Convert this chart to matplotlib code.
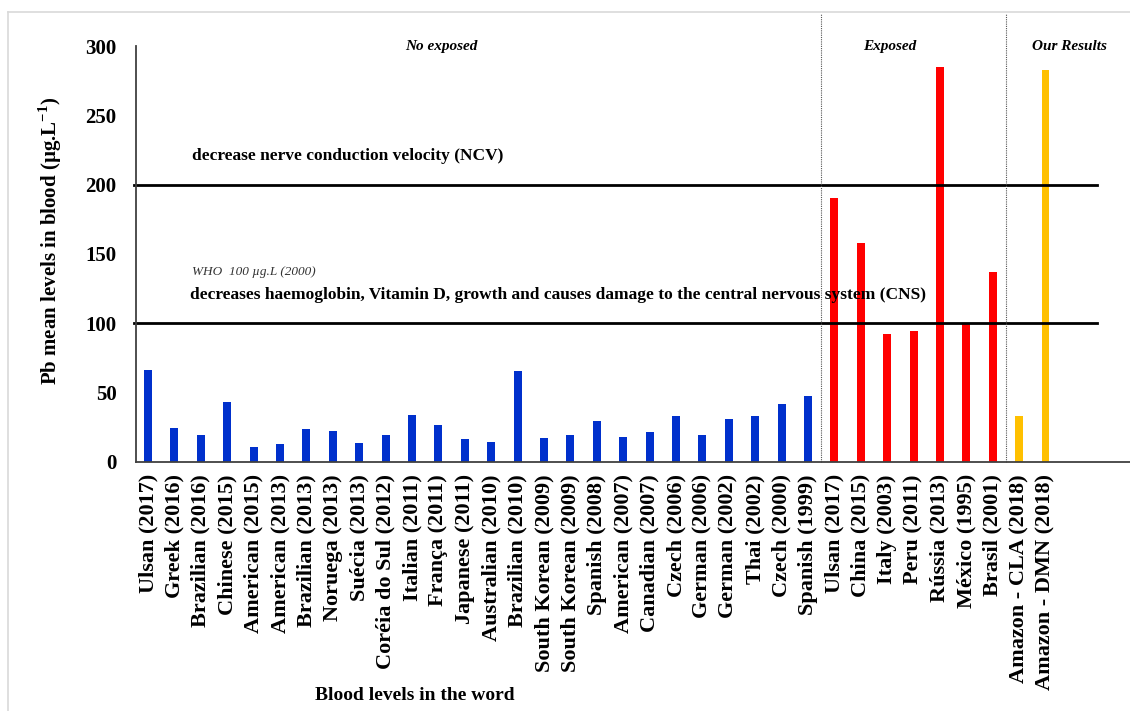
import numpy as np
import matplotlib
matplotlib.use("Agg")
import matplotlib.pyplot as plt
from matplotlib.lines import Line2D

plt.rcParams['font.family'] = ['Liberation Serif', 'DejaVu Serif']
plt.rcParams['mathtext.fontset'] = 'custom'
plt.rcParams['mathtext.rm'] = 'Liberation Serif'
plt.rcParams['mathtext.bf'] = 'Liberation Serif:bold'

# values (Pb, ug/L)
no_exposed_labels = ['Ulsan (2017)', 'Greek (2016)', 'Brazilian (2016)', 'Chinese (2015)',
                     'American (2015)', 'American (2013)', 'Brazilian (2013)', 'Noruega (2013)',
                     'Suécia (2013)', 'Coréia do Sul (2012)', 'Italian (2011)', 'França (2011)',
                     'Japanese (2011)', 'Australian (2010)', 'Brazilian (2010)', 'South Korean (2009)',
                     'South Korean (2009)', 'Spanish (2008)', 'American (2007)', 'Canadian (2007)',
                     'Czech (2006)', 'German (2006)', 'German (2002)', 'Thai (2002)',
                     'Czech (2000)', 'Spanish (1999)']
no_exposed_vals = [66, 24.5, 19.3, 43, 10.8, 12.5, 23.6, 21.7, 13.5, 19.3, 33.7, 26, 15.9, 14.4,
                   65.7, 16.9, 19.5, 29.4, 18, 21.2, 33, 19, 31, 32.5, 41.4, 47.2]

exposed_labels = ['Ulsan (2017)', 'China (2015)', 'Italy (2003)', 'Peru (2011)',
                  'Rússia (2013)', 'México (1995)', 'Brasil (2001)']
exposed_vals = [190.6, 158, 92, 94.4, 285, 99.4, 137]

our_labels = ['Amazon - CLA (2018)', 'Amazon - DMN (2018)']
our_vals = [33, 283]

thresholds = [200, 100]

labels = no_exposed_labels + exposed_labels + our_labels
n1 = len(no_exposed_vals)
n2 = len(exposed_vals)
x1 = np.arange(n1)
x2 = np.arange(n1, n1 + n2)
x3 = np.arange(n1 + n2, n1 + n2 + len(our_vals))

fig = plt.figure(figsize=(11.3, 7.11), dpi=100)
ax = fig.add_axes([0.1204, 0.3509, 0.8796, 0.5844])

ax.bar(x1, no_exposed_vals, width=0.3, color='#0030CC')
ax.bar(x2, exposed_vals, width=0.3, color='#FF0000')
ax.bar(x3, our_vals, width=0.3, color='#FFC000')

ax.set_xlim(-0.455, 37.2)
ax.set_ylim(0, 300)
ax.set_yticks([0, 50, 100, 150, 200, 250, 300])
ax.set_xticks(np.arange(len(labels)))
ax.set_xticklabels(labels, rotation=90, fontsize=16, fontweight='bold')
ax.tick_params(axis='y', length=0, pad=14, labelsize=15)
ax.tick_params(axis='x', length=0, pad=9)
for lab in ax.get_yticklabels():
    lab.set_fontweight('bold')

for s in ['top', 'right']:
    ax.spines[s].set_visible(False)
for s in ['left', 'bottom']:
    ax.spines[s].set_color('#404040')
    ax.spines[s].set_linewidth(1.3)

# threshold lines
for t in thresholds:
    ax.plot([-0.53, 35.95], [t, t], color='black', lw=2, clip_on=False, zorder=1)

# group separators
for xs in [n1 - 0.5, n1 + n2 - 0.5]:
    ax.plot([xs, xs], [0, 323], color='#555555', lw=0.8, ls=(0, (1, 1)), clip_on=False)

ax.text(11.1, 300, 'No exposed', style='italic', fontweight='bold', fontsize=11,
        ha='center', va='center')
ax.text(28.1, 300, 'Exposed', style='italic', fontweight='bold', fontsize=11,
        ha='center', va='center')
ax.text(34.9, 300, 'Our Results', style='italic', fontweight='bold', fontsize=11,
        ha='center', va='center')

ax.text(1.65, 220.5, 'decrease nerve conduction velocity (NCV)', fontweight='bold',
        fontsize=12.5, va='center')
ax.text(1.68, 137, 'WHO  100 µg.L (2000)', style='italic', fontsize=9.5, color='#333333',
        va='center')
ax.text(1.6, 120, 'decreases haemoglobin, Vitamin D, growth and causes damage to the '
        'central nervous system (CNS)', fontweight='bold', fontsize=12.5, va='center')

fig.text(0.044, 0.661, 'Pb mean levels in blood (µg.L$^{\\mathbf{-1}}$)', rotation=90,
         fontsize=15, fontweight='bold', ha='center', va='center')
fig.text(0.367, 0.022, 'Blood levels in the word', fontsize=14, fontweight='bold',
         ha='center', va='center')

# light frame around the figure
fig.add_artist(Line2D([8 / 1130, 8 / 1130], [0, 1 - 12 / 711], color='#d9d9d9', lw=1.2))
fig.add_artist(Line2D([8 / 1130, 1], [1 - 12 / 711, 1 - 12 / 711], color='#d9d9d9', lw=1.2))

fig.savefig('out.png', dpi=100)
